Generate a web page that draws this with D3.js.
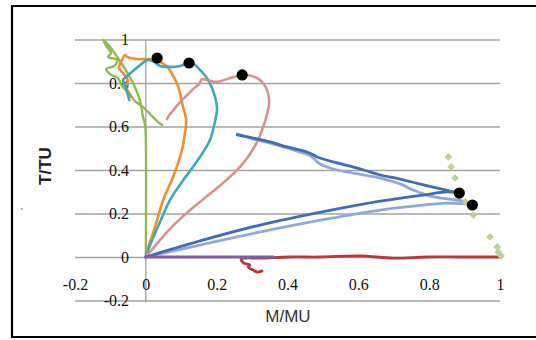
<!DOCTYPE html>
<html>
<head>
<meta charset="utf-8">
<script src="https://cdn.jsdelivr.net/npm/d3@7"></script>
<style>
  body { margin: 0; background: #fff; }
  svg { display: block; }
</style>
</head>
<body>
<figure id="chart" style="margin:0"></figure>
<script>
// tick values
const xTicks = [-0.2, 0, 0.2, 0.4, 0.6, 0.8, 1];
const yTicks = [-0.2, 0, 0.2, 0.4, 0.6, 0.8, 1];

// series, [M/MU, T/TU]
const greenLine = [[0,0],[0,0.538],[-0.002,0.607],[-0.008,0.644],[-0.016,0.717],[-0.031,0.782],[-0.05,0.841],[-0.073,0.901],[-0.101,0.966],[-0.121,1.0],
  [-0.11,0.966],[-0.098,0.938],[-0.107,0.92],[-0.081,0.906],[-0.09,0.878],[-0.112,0.864],[-0.101,0.841],[-0.079,0.823],[-0.067,0.786],[-0.045,0.749],
  [-0.031,0.717],[-0.011,0.694],[0.006,0.667],[0.02,0.644],[0.032,0.625],[0.046,0.607]];
const orangeLine = [[0,0],[0.003,0.023],[0.026,0.138],[0.049,0.262],[0.077,0.368],[0.102,0.492],[0.11,0.566],[0.114,0.63],[0.105,0.69],[0.092,0.78],
  [0.078,0.83],[0.06,0.876],[0.034,0.901],[0.006,0.91],[-0.025,0.91],[-0.053,0.92],[-0.059,0.929],[-0.07,0.897],[-0.076,0.869],[-0.062,0.841],
  [-0.05,0.809],[-0.056,0.782],[-0.047,0.754],[-0.042,0.736]];
const tealLine = [[0,0],[0.012,0.055],[0.04,0.161],[0.068,0.262],[0.102,0.345],[0.133,0.414],[0.162,0.483],[0.181,0.538],[0.195,0.621],[0.201,0.685],
  [0.193,0.749],[0.176,0.814],[0.153,0.86],[0.136,0.887],[0.119,0.892],[0.097,0.878],[0.068,0.874],[0.04,0.878],[0.023,0.897],[0.006,0.906],
  [-0.016,0.883],[-0.036,0.855],[-0.056,0.828],[-0.064,0.814],[-0.059,0.791],[-0.053,0.759],[-0.047,0.722]];
const pinkLine = [[0,0],[0.04,0.078],[0.082,0.152],[0.125,0.216],[0.173,0.28],[0.218,0.34],[0.266,0.414],[0.294,0.474],[0.317,0.538],[0.331,0.598],
  [0.342,0.653],[0.348,0.708],[0.345,0.754],[0.331,0.8],[0.314,0.823],[0.286,0.837],[0.272,0.837],[0.238,0.823],[0.201,0.805],[0.173,0.814],
  [0.159,0.818],[0.15,0.795],[0.131,0.768],[0.114,0.74],[0.099,0.717],[0.085,0.69],[0.074,0.667],[0.066,0.653],[0.06,0.634]];
const darkBlueLine = [[0,0],[0.153,0.074],[0.323,0.147],[0.512,0.212],[0.662,0.257],[0.783,0.285],[0.851,0.299],[0.885,0.294],
  [0.859,0.303],[0.823,0.317],[0.775,0.335],[0.718,0.358],[0.662,0.377],[0.633,0.391],[0.585,0.414],[0.529,0.437],[0.484,0.46],[0.455,0.483],
  [0.399,0.506],[0.351,0.529],[0.303,0.547],[0.258,0.561]];
const lightBlueLine = [[0,0],[0.153,0.055],[0.323,0.115],[0.512,0.175],[0.662,0.216],[0.755,0.234],[0.851,0.248],[0.921,0.244],
  [0.896,0.257],[0.851,0.267],[0.803,0.28],[0.755,0.308],[0.718,0.336],[0.662,0.363],[0.633,0.372],[0.585,0.386],[0.54,0.4],[0.492,0.428],
  [0.464,0.465],[0.407,0.497],[0.351,0.524],[0.303,0.543],[0.258,0.566]];
const redLine = [[0.328,-0.064],[0.314,-0.069],[0.303,-0.06],[0.289,-0.046],[0.294,-0.037],[0.277,-0.028],[0.269,-0.009],[0.28,-0.005],[0.323,-0.005],
  [0.407,0],[0.492,0],[0.605,0.005],[0.698,-0.005],[0.794,0],[0.888,0],[1.0,0]];
const purpleLine = [[0,0],[0.18,0],[0.36,0]];
const diamonds = [[0.854,0.46],[0.862,0.414],[0.873,0.363],[0.902,0.253],[0.925,0.193],[0.972,0.092],[0.992,0.046],[0.995,0.023],[1.003,0.005]];
const peaks = [[0.032,0.915],[0.122,0.892],[0.272,0.837],[0.885,0.294],[0.922,0.239]];

const W = 536, H = 340;

const svg = d3.select("#chart").append("svg")
  .attr("width", W)
  .attr("height", H);

// outer frame (right side runs off the picture)
svg.append("path")
  .attr("d", "M545,6 H12 V337 H545")
  .attr("fill", "none")
  .attr("stroke", "#000")
  .attr("stroke-width", 2.2);

const x = d3.scaleLinear().domain([-0.2, 1]).range([75, 500]);
const y = d3.scaleLinear().domain([-0.2, 1]).range([300.5, 39.5]);
const fmt = d => String(+d.toFixed(1));

// horizontal gridlines
svg.append("g")
  .attr("transform", "translate(" + x(-0.2) + ",0)")
  .call(d3.axisRight(y).tickValues(yTicks).tickSize(x(1) - x(-0.2)).tickFormat(""))
  .call(g => g.select(".domain").remove())
  .selectAll("line")
  .attr("stroke", "#a3a3a3")
  .attr("stroke-width", 1.3);

// vertical axis line at x = 0
svg.append("line")
  .attr("x1", x(0)).attr("x2", x(0))
  .attr("y1", y(1)).attr("y2", y(-0.2) + 2)
  .attr("stroke", "#a3a3a3")
  .attr("stroke-width", 1.3);

// y tick labels
svg.append("g")
  .attr("transform", "translate(129,0)")
  .call(d3.axisLeft(y).tickValues(yTicks).tickSize(0).tickPadding(0).tickFormat(fmt))
  .call(g => g.select(".domain").remove())
  .selectAll("text")
  .attr("font-family", "Liberation Serif, serif")
  .attr("font-size", 16)
  .attr("fill", "#111");

// x tick labels
svg.append("g")
  .attr("transform", "translate(0,279)")
  .call(d3.axisBottom(x).tickValues(xTicks).tickSize(0).tickPadding(0).tickFormat(fmt))
  .call(g => g.select(".domain").remove())
  .selectAll("text")
  .attr("font-family", "Liberation Serif, serif")
  .attr("font-size", 16)
  .attr("fill", "#111");

// axis titles
svg.append("text")
  .attr("transform", "translate(51,166) rotate(-90)")
  .attr("text-anchor", "middle")
  .attr("font-family", "Liberation Sans, Arial, sans-serif")
  .attr("font-weight", "bold")
  .attr("font-size", 17)
  .attr("fill", "#222")
  .text("T/TU");

svg.append("text")
  .attr("x", 288)
  .attr("y", 322)
  .attr("text-anchor", "middle")
  .attr("font-family", "Liberation Sans, Arial, sans-serif")
  .attr("font-size", 17)
  .attr("fill", "#333")
  .text("M/MU");

svg.append("text")
  .attr("x", 21)
  .attr("y", 214)
  .attr("font-family", "Liberation Sans, Arial, sans-serif")
  .attr("font-size", 9)
  .attr("fill", "#333")
  .text("'");

// the curves
const line = d3.line()
  .x(d => x(d[0]))
  .y(d => y(d[1]))
  .curve(d3.curveCatmullRom.alpha(0.5));

const series = [
  { data: greenLine, color: "#93b953", width: 2.4 },
  { data: orangeLine, color: "#f28e2e", width: 2.6 },
  { data: tealLine, color: "#3ea7c2", width: 2.6 },
  { data: pinkLine, color: "#d9918f", width: 2.6 },
  { data: lightBlueLine, color: "#8eaad8", width: 2.8 },
  { data: darkBlueLine, color: "#3f6db4", width: 2.8 },
  { data: redLine, color: "#b53a3a", width: 2.8 },
  { data: purpleLine, color: "#7d5fa6", width: 3 }
];

svg.selectAll("path.series")
  .data(series)
  .enter()
  .append("path")
  .attr("class", "series")
  .attr("d", d => line(d.data))
  .attr("fill", "none")
  .attr("stroke", d => d.color)
  .attr("stroke-width", d => d.width)
  .attr("stroke-linejoin", "round")
  .attr("stroke-linecap", "round");

// diamond markers
svg.selectAll("path.diamond")
  .data(diamonds)
  .enter()
  .append("path")
  .attr("class", "diamond")
  .attr("transform", d => "translate(" + x(d[0]) + "," + y(d[1]) + ")")
  .attr("d", d3.symbol().type(d3.symbolSquare).size(30))
  .attr("transform", d => "translate(" + x(d[0]) + "," + y(d[1]) + ") rotate(45)")
  .attr("fill", "#bcd296");

// black peak markers
svg.selectAll("circle.peak")
  .data(peaks)
  .enter()
  .append("circle")
  .attr("class", "peak")
  .attr("cx", d => x(d[0]))
  .attr("cy", d => y(d[1]))
  .attr("r", 5.6)
  .attr("fill", "#000");
</script>
</body>
</html>
